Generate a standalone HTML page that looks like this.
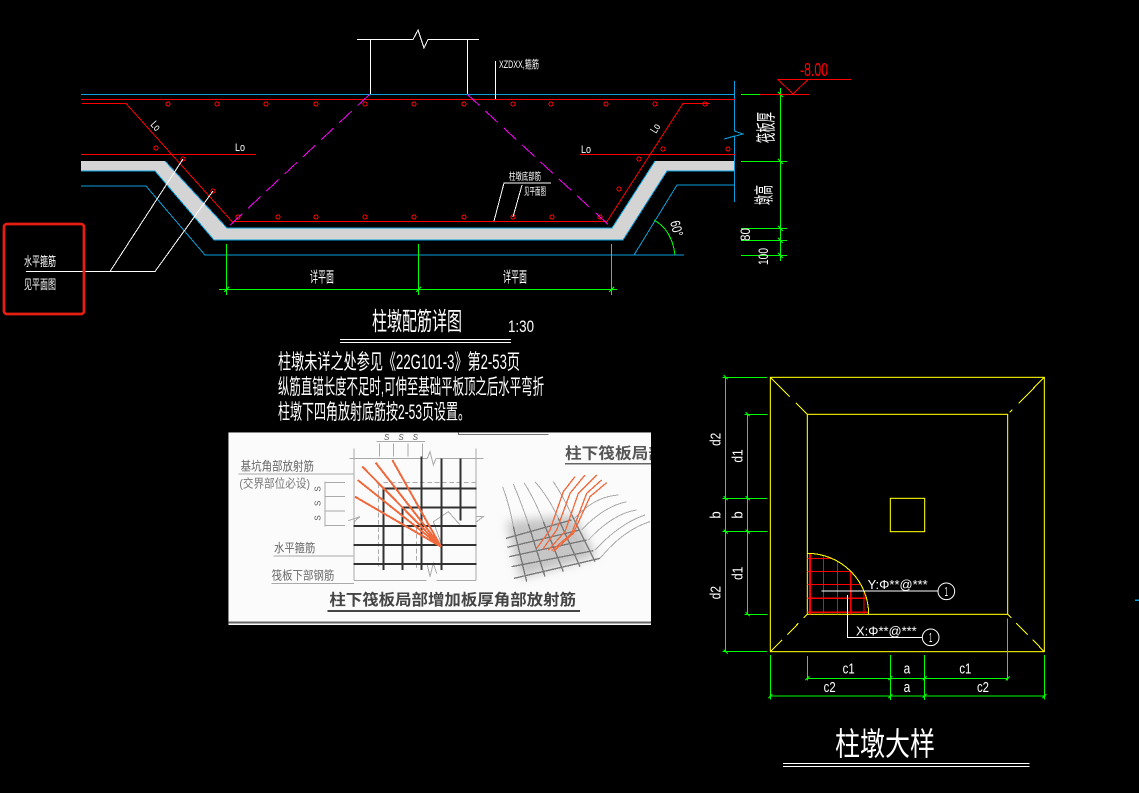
<!DOCTYPE html>
<html><head><meta charset="utf-8"><style>
html,body{margin:0;padding:0;background:#000;width:1139px;height:793px;overflow:hidden}
svg{display:block}
text{font-family:"Liberation Sans","Noto Sans CJK SC",sans-serif;fill:#fff}
line,polyline,path,circle{shape-rendering:crispEdges}
.l{fill:none}
.w{stroke:#fff}.r{stroke:#f00}.b{stroke:#0aa0dc}.g{stroke:#0f0}.y{stroke:#ff0}
</style></head><body>
<svg width="1139" height="793" viewBox="0 0 1139 793" xmlns="http://www.w3.org/2000/svg">
<rect width="1139" height="793" fill="#000"/>

<!-- band -->
<polygon points="81,161 165,161 227,228 612,228 655,161 734,161 734,171 667,171 623,240 214,240 155,171 81,171" fill="#d4d4d4"/>
<polyline class="l b" points="81,171 155,171 214,240 623,240 667,171 734,171"/>
<polyline class="l b" points="165,161 227,228 612,228 655,161"/>
<polyline class="l b" points="81,186 146,186 205,255 634,255 677,185 734,185"/>
<line class="l b" x1="205" y1="255" x2="684" y2="255"/>
<line class="l b" x1="81" y1="94.5" x2="735" y2="94.5"/>
<polyline class="l b" points="734.5,81 734.5,131 743,134 724,139 734.5,136 734.5,202"/>

<!-- column -->
<polyline fill="none" class="w" points="357,39.5 413,39.5 418,30 424,48 428,39.5 479,39.5"/>
<line class="l w" x1="370.5" y1="39" x2="370.5" y2="94"/>
<line class="l w" x1="467.5" y1="39" x2="467.5" y2="94"/>
<line class="l w" x1="495.5" y1="61" x2="495.5" y2="99"/>
<text x="499" y="68" font-size="11" textLength="40" lengthAdjust="spacingAndGlyphs">XZDXX,箍筋</text>

<!-- red lines -->
<g stroke="#f00" fill="none">
<line x1="81" y1="99.5" x2="735" y2="99.5"/>
<polyline points="82,103.5 126,103.5 232,221.5 607,221.5 683,103.5 710,103.5"/>
<line x1="81" y1="154.5" x2="256" y2="154.5"/>
<line x1="580" y1="154.5" x2="735" y2="154.5"/>
<g stroke-width="1">
<circle cx="168" cy="104" r="2"/><circle cx="217" cy="104" r="2"/><circle cx="266" cy="104" r="2"/><circle cx="316" cy="104" r="2"/><circle cx="365" cy="104" r="2"/><circle cx="414" cy="104" r="2"/><circle cx="464" cy="104" r="2"/><circle cx="513" cy="104" r="2"/><circle cx="551" cy="104" r="2"/><circle cx="606" cy="104" r="2"/><circle cx="655" cy="104" r="2"/><circle cx="705" cy="104" r="2"/>
<circle cx="156" cy="148" r="2"/><circle cx="183" cy="159" r="2"/><circle cx="213" cy="191" r="2"/>
<circle cx="238" cy="217" r="2"/><circle cx="278" cy="217" r="2"/><circle cx="316" cy="217" r="2"/><circle cx="365" cy="217" r="2"/><circle cx="414" cy="217" r="2"/><circle cx="464" cy="217" r="2"/><circle cx="513" cy="217" r="2"/><circle cx="552" cy="217" r="2"/><circle cx="600" cy="217" r="2"/>
<circle cx="619" cy="189" r="2"/><circle cx="639" cy="159" r="2"/><circle cx="663" cy="149" r="2"/><circle cx="728" cy="149" r="2"/>
</g>
</g>

<!-- magenta -->
<line x1="370" y1="94" x2="227" y2="228" stroke="#f0f" stroke-dasharray="17,8"/>
<line x1="467" y1="94" x2="612" y2="228" stroke="#f0f" stroke-dasharray="17,8"/>

<!-- labels upper -->
<text x="235" y="151" font-size="11" textLength="10" lengthAdjust="spacingAndGlyphs">Lo</text>
<text x="581" y="153" font-size="11" textLength="10" lengthAdjust="spacingAndGlyphs">Lo</text>
<text transform="translate(150,125) rotate(48)" font-size="11" textLength="9" lengthAdjust="spacingAndGlyphs">Lo</text>
<text transform="translate(656,134) rotate(-58)" font-size="11" textLength="9" lengthAdjust="spacingAndGlyphs">Lo</text>

<!-- small leader -->
<polyline class="w" fill="none" points="494,221 504,183 551,183"/>
<polyline class="w" fill="none" points="513,217 522,185"/>
<text x="509" y="180" font-size="10" textLength="32" lengthAdjust="spacingAndGlyphs">柱墩底部筋</text>
<text x="524" y="195" font-size="10" textLength="22" lengthAdjust="spacingAndGlyphs">见平面图</text>

<!-- left leader + box -->
<polyline fill="none" stroke="#fff" points="26,271.5 155,271.5 213,191"/>
<line stroke="#fff" x1="110" y1="271.5" x2="183" y2="159"/>
<rect x="4" y="224" width="80" height="90" rx="3" ry="3" fill="none" stroke="#e41f12" stroke-width="2.8"/>
<text x="24" y="266" font-size="13" textLength="32" lengthAdjust="spacingAndGlyphs">水平箍筋</text>
<text x="24" y="289" font-size="13" textLength="32" lengthAdjust="spacingAndGlyphs">见平面图</text>

<!-- bottom dims -->
<g class="l g">
<line x1="219" y1="289.5" x2="617" y2="289.5"/>
<line x1="226.5" y1="244" x2="226.5" y2="295"/>
<line x1="418.5" y1="244" x2="418.5" y2="295"/>
<line x1="611.5" y1="244" x2="611.5" y2="295"/>
</g>
<g stroke="#0f0"><line x1="224" y1="292" x2="229" y2="287"/><line x1="416" y1="292" x2="421" y2="287"/><line x1="609" y1="292" x2="614" y2="287"/></g>
<text x="310" y="282" font-size="15" textLength="24" lengthAdjust="spacingAndGlyphs">详平面</text>
<text x="503" y="282" font-size="15" textLength="24" lengthAdjust="spacingAndGlyphs">详平面</text>

<!-- right dims -->
<g class="l g">
<line x1="780.5" y1="88" x2="780.5" y2="261"/>
<line x1="741" y1="94.5" x2="760" y2="94.5"/>
<line x1="741" y1="161.5" x2="787" y2="161.5"/>
<line x1="741" y1="228.5" x2="787" y2="228.5"/>
<line x1="741" y1="240.5" x2="787" y2="240.5"/>
<line x1="741" y1="255.5" x2="787" y2="255.5"/>
</g>
<g stroke="#0f0"><line x1="778" y1="92" x2="783" y2="97"/><line x1="778" y1="159" x2="783" y2="164"/><line x1="778" y1="226" x2="783" y2="231"/><line x1="778" y1="238" x2="783" y2="243"/><line x1="778" y1="253" x2="783" y2="258"/></g>
<line class="l r" x1="760" y1="94.5" x2="809" y2="94.5"/>
<polyline stroke="#f00" fill="none" points="851,79.5 778,79.5 793,94 808,79.5"/>
<text x="800" y="76" font-size="18" textLength="28" lengthAdjust="spacingAndGlyphs" style="fill:#f00">-8.00</text>
<text transform="translate(773,143) rotate(-90)" font-size="20" textLength="31" lengthAdjust="spacingAndGlyphs">筏板厚</text>
<text transform="translate(771,205) rotate(-90)" font-size="20" textLength="20" lengthAdjust="spacingAndGlyphs">墩高</text>
<text transform="translate(750,241) rotate(-90)" font-size="14" textLength="13" lengthAdjust="spacingAndGlyphs">80</text>
<text transform="translate(768,265) rotate(-90)" font-size="14" textLength="17" lengthAdjust="spacingAndGlyphs">100</text>
<path d="M654,220 Q672,230 675,255" fill="none" stroke="#0f0"/>
<text transform="translate(670,222) rotate(75)" font-size="14" textLength="16" lengthAdjust="spacingAndGlyphs">60°</text>

<!-- title -->
<text x="372" y="330" font-size="25" textLength="90" lengthAdjust="spacingAndGlyphs">柱墩配筋详图</text>
<text x="508" y="332" font-size="17" textLength="26" lengthAdjust="spacingAndGlyphs">1:30</text>
<line class="l w" x1="340" y1="339.5" x2="511" y2="339.5"/>
<line class="l w" x1="340" y1="342.5" x2="511" y2="342.5"/>
<text x="278" y="369" font-size="21" textLength="242" lengthAdjust="spacingAndGlyphs">柱墩未详之处参见《22G101-3》第2-53页</text>
<text x="278" y="394" font-size="21" textLength="266" lengthAdjust="spacingAndGlyphs">纵筋直锚长度不足时,可伸至基础平板顶之后水平弯折</text>
<text x="278" y="419" font-size="21" textLength="192" lengthAdjust="spacingAndGlyphs">柱墩下四角放射底筋按2-53页设置。</text>

<!-- photo -->
<defs>
<filter id="bl" x="-20%" y="-20%" width="140%" height="140%"><feGaussianBlur stdDeviation="14"/></filter>
<filter id="sf"><feGaussianBlur stdDeviation="0.9"/></filter>
<clipPath id="ph"><rect x="25" y="397" width="1268" height="578"/></clipPath>
<clipPath id="q"><path d="M352,763 L352,580 A184,183 0 0 1 536,763 Z"/></clipPath>
</defs>
<g transform="translate(220,300) scale(.33333)" clip-path="url(#ph)">
<rect x="25" y="397" width="1268" height="578" fill="#fbfbfb"/>
<g filter="url(#sf)">
<polyline points="715,397 715,404 985,404" fill="none" stroke="#777" stroke-width="3"/>
<g stroke="#aaa" stroke-width="3" fill="none">
<line x1="402" y1="445" x2="402" y2="842"/><line x1="768" y1="445" x2="768" y2="842"/>
<line x1="388" y1="475" x2="622" y2="475"/><line x1="648" y1="475" x2="790" y2="475"/>
<line x1="402" y1="842" x2="620" y2="842"/><line x1="650" y1="842" x2="768" y2="842"/>
<polyline points="622,475 630,455 640,495 648,475"/>
<polyline points="622,795 630,830 640,790 650,820"/>
<polyline points="385,662 420,650 405,662 402,678"/>
<polyline points="770,650 790,650 770,665"/>
<line x1="478" y1="430" x2="478" y2="470"/><line x1="521" y1="430" x2="521" y2="470"/><line x1="564" y1="430" x2="564" y2="470"/><line x1="607" y1="430" x2="607" y2="470"/>
<line x1="470" y1="425" x2="615" y2="425"/>
<line x1="315" y1="545" x2="315" y2="680"/>
<line x1="315" y1="547" x2="375" y2="547"/><line x1="315" y1="590" x2="375" y2="590"/><line x1="315" y1="633" x2="375" y2="633"/><line x1="315" y1="677" x2="375" y2="677"/>
<line x1="55" y1="522" x2="402" y2="522"/>
<line x1="160" y1="768" x2="402" y2="768"/>
<line x1="155" y1="850" x2="402" y2="850"/>
<polyline points="665,735 640,665 685,635 725,680"/>
<line x1="490" y1="548" x2="768" y2="548" stroke-dasharray="14,8"/>
<line x1="475" y1="550" x2="475" y2="800" stroke-dasharray="14,8"/>
<line x1="590" y1="680" x2="590" y2="810" stroke-dasharray="14,8"/>
<line x1="25" y1="967" x2="1293" y2="967" stroke="#666" stroke-width="6"/>
</g>
<g stroke="#333" stroke-width="6" fill="none">
<line x1="490" y1="562" x2="490" y2="810"/><line x1="548" y1="620" x2="548" y2="810"/><line x1="605" y1="470" x2="605" y2="810"/><line x1="664" y1="475" x2="664" y2="810"/><line x1="722" y1="475" x2="722" y2="662"/>
<line x1="490" y1="565" x2="770" y2="565"/><line x1="548" y1="622" x2="770" y2="622"/><line x1="400" y1="678" x2="770" y2="678"/><line x1="400" y1="735" x2="770" y2="735"/><line x1="400" y1="792" x2="770" y2="792"/>
</g>
<g stroke="#f0693c" stroke-width="6" fill="none">
<line x1="663" y1="740" x2="517" y2="480"/><line x1="663" y1="740" x2="467" y2="488"/><line x1="663" y1="740" x2="427" y2="500"/><line x1="663" y1="740" x2="413" y2="540"/><line x1="663" y1="740" x2="405" y2="590"/>
</g>
<!-- 3D mesh -->
<polygon points="860,665 1060,645 1130,770 900,835" fill="#999" opacity=".55" filter="url(#bl)"/>
<g stroke="#777" stroke-width="4" fill="none">
<line x1="858" y1="715" x2="1055" y2="660"/><line x1="862" y1="742" x2="1080" y2="690"/><line x1="868" y1="770" x2="1100" y2="720"/><line x1="875" y1="800" x2="1120" y2="752"/><line x1="882" y1="835" x2="1140" y2="775"/>
<line x1="880" y1="680" x2="920" y2="845"/><line x1="925" y1="672" x2="975" y2="830"/><line x1="970" y1="665" x2="1030" y2="815"/><line x1="1015" y1="655" x2="1080" y2="800"/><line x1="1055" y1="645" x2="1125" y2="785"/>
</g>
<g stroke="#aaa" stroke-width="3" fill="none">
<path d="M848,560 Q870,620 880,680"/><path d="M880,552 Q905,610 925,672"/><path d="M912,548 Q945,600 970,665"/><path d="M945,545 Q985,590 1015,655"/><path d="M1000,545 Q1030,590 1055,645"/>
<path d="M1060,660 Q1120,590 1195,585"/><path d="M1085,690 Q1150,620 1220,605"/><path d="M1105,720 Q1180,640 1250,630"/><path d="M1125,750 Q1200,670 1275,645"/><path d="M1140,775 Q1210,690 1290,665"/>
</g>
<g stroke="#f0693c" stroke-width="4" fill="none">
<path d="M950,745 L990,690 L1030,575 L1065,530"/><path d="M968,748 L1010,690 L1050,580 L1095,525"/><path d="M985,750 L1035,695 L1075,580 L1130,525"/><path d="M995,752 L1055,700 L1100,580 L1145,540"/><path d="M1000,755 L1060,700 L1110,590 L1160,548"/>
</g>
<g>
<text x="62" y="512" style="fill:#666" font-size="37" textLength="220" lengthAdjust="spacingAndGlyphs">基坑角部放射筋</text>
<text x="58" y="562" style="fill:#777" font-size="35" textLength="212" lengthAdjust="spacingAndGlyphs">(交界部位必设)</text>
<text x="162" y="756" style="fill:#666" font-size="35" textLength="124" lengthAdjust="spacingAndGlyphs">水平箍筋</text>
<text x="155" y="838" style="fill:#666" font-size="35" textLength="188" lengthAdjust="spacingAndGlyphs">筏板下部钢筋</text>
<text x="1035" y="475" style="fill:#555;font-weight:bold" font-size="46" textLength="300" lengthAdjust="spacingAndGlyphs">柱下筏板局部</text>
<text x="328" y="915" style="fill:#444;font-weight:bold" font-size="46" textLength="740" lengthAdjust="spacingAndGlyphs">柱下筏板局部增加板厚角部放射筋</text>
<text x="492" y="420" style="fill:#555" font-size="24" font-style="italic">S</text>
<text x="535" y="420" style="fill:#555" font-size="24" font-style="italic">S</text>
<text x="578" y="420" style="fill:#555" font-size="24" font-style="italic">S</text>
<text transform="translate(302,575) rotate(-90)" style="fill:#555" font-size="24">S</text>
<text transform="translate(302,618) rotate(-90)" style="fill:#555" font-size="24">S</text>
<text transform="translate(302,662) rotate(-90)" style="fill:#555" font-size="24">S</text>
</g>
<line x1="1035" y1="491" x2="1293" y2="491" stroke="#666" stroke-width="5"/>
<line x1="322" y1="933" x2="1080" y2="933" stroke="#444" stroke-width="5"/>
</g>
</g>

<!-- plan detail -->
<g transform="translate(690,360) scale(.33333)">
<g fill="none" stroke="#ff0" stroke-width="3.2">
<rect x="241" y="52" width="822" height="823"/>
<rect x="352" y="163" width="601" height="600"/>
<rect x="601" y="415" width="103" height="100"/>
<line x1="241" y1="52" x2="352" y2="163" stroke-dasharray="82,26,48,300"/>
<line x1="1063" y1="52" x2="953" y2="163" stroke-dasharray="110,26,12,300"/>
<line x1="241" y1="875" x2="352" y2="763" stroke-dasharray="50,22,48,22,18,300"/>
<line x1="1063" y1="875" x2="953" y2="763" stroke-dasharray="50,22,48,22,18,300"/>
</g>
<g clip-path="url(#q)" stroke="#f00" stroke-width="3" fill="none">
<line x1="360" y1="575" x2="360" y2="765" stroke-width="6"/><line x1="400" y1="575" x2="400" y2="765"/><line x1="442" y1="575" x2="442" y2="765"/><line x1="482" y1="575" x2="482" y2="765" stroke-width="5"/><line x1="522" y1="575" x2="522" y2="765"/>
<line x1="352" y1="595" x2="540" y2="595"/><line x1="352" y1="634" x2="540" y2="634"/><line x1="352" y1="674" x2="540" y2="674"/><line x1="352" y1="715" x2="540" y2="715" stroke-width="4"/><line x1="352" y1="757" x2="540" y2="757" stroke-width="5"/>
</g>
<path d="M352,580 A184,183 0 0 1 536,763" fill="none" stroke="#ff0" stroke-width="3.2"/>
<g fill="none" stroke="#fff" stroke-width="3">
<line x1="395" y1="693" x2="745" y2="693"/>
<polyline points="472,705 472,832 697,832"/>
<circle cx="769" cy="694" r="25" style="shape-rendering:auto"/><circle cx="722" cy="832" r="25" style="shape-rendering:auto"/>
</g>
<text x="533" y="687" font-size="39" textLength="180" lengthAdjust="spacingAndGlyphs">Y:Φ**@***</text>
<text x="498" y="826" font-size="39" textLength="182" lengthAdjust="spacingAndGlyphs">X:Φ**@***</text>
<text x="769" y="708" font-size="39" text-anchor="middle" textLength="10" lengthAdjust="spacingAndGlyphs">1</text>
<text x="722" y="846" font-size="39" text-anchor="middle" textLength="10" lengthAdjust="spacingAndGlyphs">1</text>
<g fill="none" stroke="#0f0" stroke-width="3">
<line x1="107" y1="52" x2="107" y2="875"/><line x1="173" y1="163" x2="173" y2="763"/>
<line x1="97" y1="52" x2="231" y2="52"/><line x1="97" y1="415" x2="231" y2="415"/><line x1="97" y1="515" x2="233" y2="515"/><line x1="97" y1="875" x2="231" y2="875"/>
<line x1="163" y1="163" x2="233" y2="163"/><line x1="163" y1="763" x2="233" y2="763"/>
<line x1="350" y1="955" x2="955" y2="955"/><line x1="238" y1="1008" x2="1067" y2="1008"/>
<line x1="352" y1="888" x2="352" y2="962"/><line x1="601" y1="885" x2="601" y2="1020"/><line x1="704" y1="885" x2="704" y2="1020"/><line x1="953" y1="775" x2="953" y2="962"/>
<line x1="241" y1="885" x2="241" y2="1018"/><line x1="1063" y1="885" x2="1063" y2="1018"/>
<line x1="101" y1="46" x2="113" y2="58"/><line x1="101" y1="409" x2="113" y2="421"/><line x1="101" y1="509" x2="113" y2="521"/><line x1="101" y1="869" x2="113" y2="881"/>
<line x1="167" y1="157" x2="179" y2="169"/><line x1="167" y1="409" x2="179" y2="421"/><line x1="167" y1="509" x2="179" y2="521"/><line x1="167" y1="757" x2="179" y2="769"/>
<line x1="346" y1="961" x2="358" y2="949"/><line x1="595" y1="961" x2="607" y2="949"/><line x1="698" y1="961" x2="710" y2="949"/><line x1="947" y1="961" x2="959" y2="949"/>
<line x1="235" y1="1014" x2="247" y2="1002"/><line x1="595" y1="1014" x2="607" y2="1002"/><line x1="698" y1="1014" x2="710" y2="1002"/><line x1="1057" y1="1014" x2="1069" y2="1002"/>
</g>
<g>
<text transform="translate(92,258) rotate(-90)" font-size="44" textLength="40" lengthAdjust="spacingAndGlyphs">d2</text>
<text transform="translate(92,718) rotate(-90)" font-size="44" textLength="40" lengthAdjust="spacingAndGlyphs">d2</text>
<text transform="translate(158,308) rotate(-90)" font-size="44" textLength="40" lengthAdjust="spacingAndGlyphs">d1</text>
<text transform="translate(158,660) rotate(-90)" font-size="44" textLength="40" lengthAdjust="spacingAndGlyphs">d1</text>
<text transform="translate(92,476) rotate(-90)" font-size="44" textLength="22" lengthAdjust="spacingAndGlyphs">b</text>
<text transform="translate(158,476) rotate(-90)" font-size="44" textLength="22" lengthAdjust="spacingAndGlyphs">b</text>
<text x="458" y="940" font-size="44" textLength="36" lengthAdjust="spacingAndGlyphs">c1</text>
<text x="641" y="940" font-size="44" textLength="20" lengthAdjust="spacingAndGlyphs">a</text>
<text x="808" y="940" font-size="44" textLength="36" lengthAdjust="spacingAndGlyphs">c1</text>
<text x="401" y="996" font-size="44" textLength="36" lengthAdjust="spacingAndGlyphs">c2</text>
<text x="641" y="996" font-size="44" textLength="20" lengthAdjust="spacingAndGlyphs">a</text>
<text x="861" y="996" font-size="44" textLength="36" lengthAdjust="spacingAndGlyphs">c2</text>
</g>
<text x="435" y="1185" font-size="96" textLength="300" lengthAdjust="spacingAndGlyphs">柱墩大样</text>
<line x1="279" y1="1210" x2="1019" y2="1210" stroke="#fff" stroke-width="3"/>
<line x1="279" y1="1219" x2="1019" y2="1219" stroke="#fff" stroke-width="3"/>
</g>
<line x1="1135" y1="600" x2="1139" y2="600" stroke="#0aa0dc" stroke-width="1.5"/>
</svg>
</body></html>
